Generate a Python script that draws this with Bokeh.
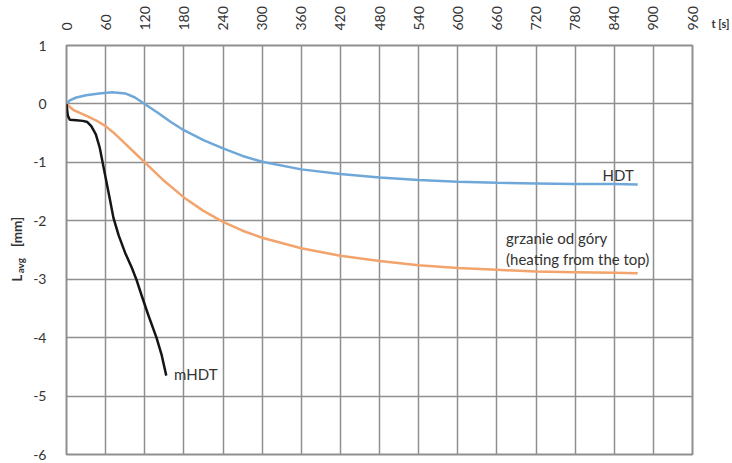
import math
from bokeh.plotting import figure
from bokeh.layouts import row
from bokeh.models import FixedTicker
from bokeh.core.properties import value
from bokeh.embed import file_html
from bokeh.resources import INLINE

# ---- data ----
hdt_t = [0, 5, 15, 30, 50, 70, 90, 105, 120, 140, 160, 180, 210, 240, 270, 300,
         360, 420, 480, 540, 600, 660, 720, 780, 840, 876]
hdt_L = [0, 0.06, 0.11, 0.15, 0.18, 0.2, 0.18, 0.11, 0.0, -0.15, -0.31, -0.45,
         -0.62, -0.76, -0.89, -0.99, -1.12, -1.2, -1.26, -1.3, -1.33, -1.35,
         -1.36, -1.37, -1.37, -1.38]

top_t = [0, 10, 30, 45, 60, 75, 90, 105, 120, 150, 180, 210, 240, 270, 300, 360,
         420, 480, 540, 600, 660, 720, 780, 840, 876]
top_L = [0, -0.1, -0.2, -0.28, -0.38, -0.52, -0.68, -0.84, -1.0, -1.32, -1.6,
         -1.83, -2.02, -2.17, -2.29, -2.47, -2.6, -2.69, -2.76, -2.81, -2.84,
         -2.87, -2.88, -2.89, -2.9]

mhdt_t = [0, 2, 5, 15, 25, 32, 38, 45, 51, 58, 66, 72, 80, 90, 100, 107, 115,
          125, 138, 146, 153]
mhdt_L = [0, -0.2, -0.27, -0.28, -0.29, -0.31, -0.38, -0.52, -0.75, -1.15, -1.6,
          -1.95, -2.25, -2.55, -2.8, -3.0, -3.27, -3.6, -4.0, -4.3, -4.65]

x_ticks = list(range(0, 961, 60))
y_ticks = [-6, -5, -4, -3, -2, -1, 0, 1]
y_tick_labels = ["-6", "-5", "-4", "-3", "-2", "-1", "0", "1"]

FONT = "Lato"
TXT = "#333333"
GRID = "#8f8f8f"
H = 461

p = figure(width=670, height=H, x_range=(0, 960), y_range=(-6, 1),
           output_backend="svg", toolbar_location=None, title=None,
           x_axis_location="above",
           min_border_left=33, min_border_right=8,
           min_border_top=45, min_border_bottom=7)
p.background_fill_color = "white"
p.border_fill_color = "white"
p.outline_line_color = GRID
p.outline_line_width = 2

for ax in (p.xaxis[0], p.yaxis[0]):
    ax.axis_line_color = None
    ax.major_tick_line_color = None
    ax.minor_tick_line_color = None
    ax.major_label_text_font = FONT
    ax.major_label_text_color = TXT
    ax.major_label_text_font_size = "14px"

p.xaxis.ticker = FixedTicker(ticks=x_ticks)
p.xaxis.major_label_orientation = math.pi / 2
p.xaxis.major_label_standoff = 9
p.yaxis.ticker = FixedTicker(ticks=y_ticks)
p.yaxis.major_label_overrides = dict(zip(y_ticks, y_tick_labels))
p.yaxis.major_label_standoff = 14

p.xgrid.ticker = FixedTicker(ticks=x_ticks)
p.ygrid.ticker = FixedTicker(ticks=y_ticks)
for g in (p.xgrid[0], p.ygrid[0]):
    g.grid_line_color = GRID
    g.grid_line_width = 1.5

p.line(hdt_t, hdt_L, line_color="#6fa8d8", line_width=2.5)
p.line(top_t, top_L, line_color="#f2a46c", line_width=2.5)
p.line(mhdt_t, mhdt_L, line_color="#151515", line_width=2.5)

def note(x, y, txt):
    p.text(x=[x], y=[y], text=[txt], text_font=value(FONT),
           text_font_size="15px", text_color=TXT, text_baseline="middle",
           text_align="left")

note(822, -1.21, "HDT")
note(674, -2.29, "grzanie od góry")
note(674, -2.65, "(heating from the top)")
note(165, -4.62, "mHDT")

# ---- left panel: rotated y-axis title with subscript (frame aligns with p) ----
lab = figure(width=30, height=H, x_range=(0, 30), y_range=(-6, 1),
             output_backend="svg", toolbar_location=None, title=None,
             x_axis_type=None, y_axis_type=None,
             min_border_left=0, min_border_right=0,
             min_border_top=45, min_border_bottom=7)
lab.outline_line_color = None
lab.grid.visible = False
lab.background_fill_color = "white"
lab.border_fill_color = "white"

def vtxt(x, y, txt, size):
    lab.text(x=[x], y=[y], text=[txt], text_font=value(FONT),
             text_font_size=size, text_font_style="bold", text_color=TXT,
             text_baseline="middle", text_align="left", angle=math.pi / 2)

vtxt(16, -3.04, "L", "13px")
vtxt(19.5, -2.90, "avg", "10px")
vtxt(16, -2.45, "[mm]", "13.5px")

# ---- right panel: x-axis unit label as a tickless axis title ----
rt = figure(width=32, height=H, x_range=(0, 1), y_range=(-6, 1),
            output_backend="svg", toolbar_location=None, title=None,
            x_axis_location="above", y_axis_type=None,
            min_border_left=8, min_border_right=0,
            min_border_top=45, min_border_bottom=7)
rt.outline_line_color = None
rt.grid.visible = False
rt.background_fill_color = "white"
rt.border_fill_color = "white"
rax = rt.xaxis[0]
rax.ticker = FixedTicker(ticks=[])
rax.axis_line_color = None
rax.major_tick_line_color = None
rax.minor_tick_line_color = None
rax.major_tick_out = 0
rax.major_label_standoff = 0
rax.axis_label = "t [s]"
rax.axis_label_text_font = FONT
rax.axis_label_text_font_size = "11px"
rax.axis_label_text_font_style = "bold"
rax.axis_label_text_color = TXT
rax.axis_label_standoff = 16

layout = row(lab, p, rt, spacing=0)
open("out.html", "w").write(file_html(layout, INLINE))
